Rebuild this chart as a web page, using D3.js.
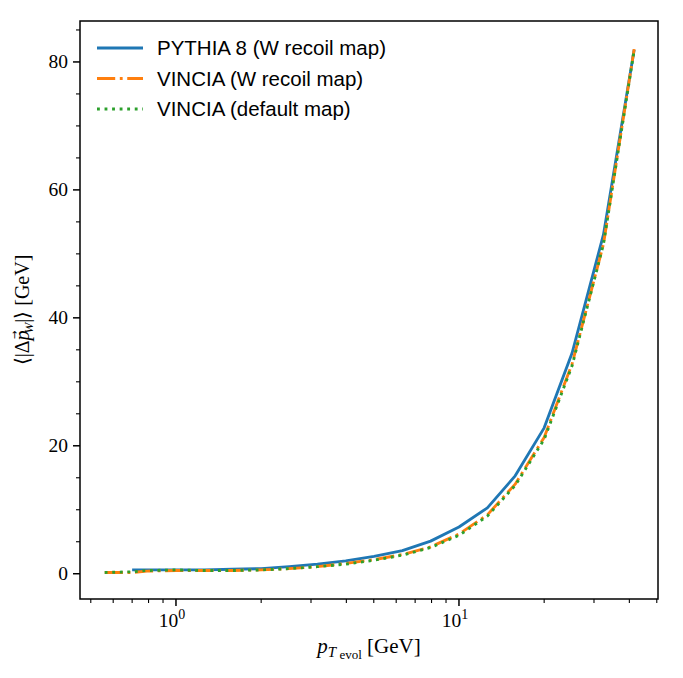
<!DOCTYPE html>
<html>
<head>
<meta charset="utf-8">
<script src="https://cdn.jsdelivr.net/npm/d3@7"></script>
<style>
  html, body { margin: 0; padding: 0; background: #fff; }
  svg { display: block; }
  .tick-lbl { font-family: "Liberation Serif", "Times New Roman", serif; font-size: 19.5px; fill: #000; }
  .leg { font-family: "Liberation Sans", Arial, sans-serif; font-size: 20.5px; fill: #000; }
</style>
</head>
<body>
<svg id="chart" width="683" height="678"></svg>
<script>
// pT_evol bin positions [GeV]
const ptEvol = [0.56, 0.70, 0.79, 1.0, 1.26, 1.58, 2.0, 2.51, 3.16, 3.98, 5.01, 6.31, 7.94, 10.0, 12.6, 15.8, 20.0, 25.1, 32.4, 41.6];
// <|Δp_W|> [GeV]
const pythiaW  = [null, 0.6, 0.6, 0.6, 0.6, 0.7, 0.8, 1.1, 1.5, 2.0, 2.7, 3.6, 5.1, 7.3, 10.3, 15.3, 22.8, 34.5, 53.0, 81.9];
const vinciaW  = [0.2, 0.2, 0.4, 0.5, 0.5, 0.5, 0.6, 0.8, 1.1, 1.6, 2.2, 3.0, 4.2, 6.2, 9.2, 14.0, 21.3, 32.8, 51.5, 82.0];
const vinciaD  = [0.2, 0.3, 0.5, 0.6, 0.5, 0.5, 0.6, 0.8, 1.1, 1.5, 2.1, 2.9, 4.1, 6.0, 9.0, 13.8, 21.0, 32.5, 51.5, 81.8];

const seriesNames = ["PYTHIA 8 (W recoil map)", "VINCIA (W recoil map)", "VINCIA (default map)"];
const seriesColors = ["#1f77b4", "#ff7f0e", "#2ca02c"];
const seriesDash = [null, "18.2,4.6,2.85,4.6", "2.85,4.7"];
const seriesVals = [pythiaW, vinciaW, vinciaD];

const yTicks = [0, 20, 40, 60, 80];

const W = 683, H = 678;
const m = { l: 80, r: 25, t: 21, b: 79 };
const svg = d3.select("#chart");

const x = d3.scaleLog().domain([0.458, 50.5]).range([m.l, W - m.r]);
const y = d3.scaleLinear().domain([-3.95, 86.4]).range([H - m.b, m.t]);

const g = svg.append("g");

// curves
svg.append("defs").append("clipPath").attr("id", "plotclip")
  .append("rect").attr("x", m.l).attr("y", m.t).attr("width", W - m.l - m.r).attr("height", H - m.t - m.b);

const line = d3.line()
  .defined(d => d[1] != null)
  .x(d => x(d[0])).y(d => y(d[1]));

seriesVals.forEach((vals, i) => {
  g.append("path")
    .datum(ptEvol.map((p, j) => [p, vals[j]]))
    .attr("clip-path", "url(#plotclip)")
    .attr("fill", "none")
    .attr("stroke", seriesColors[i])
    .attr("stroke-width", 2.85)
    .attr("stroke-dasharray", seriesDash[i])
    .attr("stroke-linejoin", "round")
    .attr("d", line);
});

// frame
svg.append("rect")
  .attr("x", m.l).attr("y", m.t)
  .attr("width", W - m.l - m.r).attr("height", H - m.t - m.b)
  .attr("fill", "none").attr("stroke", "#000").attr("stroke-width", 1.5);

// x axis ticks
const xMajor = [1, 10];
const xMinor = [];
[0.1, 1, 10].forEach(dec => { for (let k = 2; k <= 9; k++) xMinor.push(dec * k); });
const xMinorIn = xMinor.filter(v => v >= 0.458 && v <= 50.5);
const yb = H - m.b;

svg.append("g").selectAll("line").data(xMinorIn).join("line")
  .attr("x1", d => x(d)).attr("x2", d => x(d))
  .attr("y1", yb).attr("y2", yb + 4)
  .attr("stroke", "#000").attr("stroke-width", 1.1);
svg.append("g").selectAll("line").data(xMajor).join("line")
  .attr("x1", d => x(d)).attr("x2", d => x(d))
  .attr("y1", yb).attr("y2", yb + 7)
  .attr("stroke", "#000").attr("stroke-width", 1.5);

const xl = svg.append("g").selectAll("text").data(xMajor).join("text")
  .attr("class", "tick-lbl")
  .attr("x", d => x(d) - 4).attr("y", yb + 28)
  .attr("text-anchor", "middle");
xl.append("tspan").text("10");
xl.append("tspan").attr("dy", -8).attr("font-size", "14px").text(d => Math.round(Math.log10(d)));

// y axis ticks
const yMinor = d3.range(0, 86, 5).filter(v => !yTicks.includes(v));
svg.append("g").selectAll("line").data(yMinor.filter(v => y(v) > m.t)).join("line")
  .attr("x1", m.l - 4).attr("x2", m.l)
  .attr("y1", d => y(d)).attr("y2", d => y(d))
  .attr("stroke", "#000").attr("stroke-width", 1.1);
svg.append("g").selectAll("line").data(yTicks).join("line")
  .attr("x1", m.l - 7).attr("x2", m.l)
  .attr("y1", d => y(d)).attr("y2", d => y(d))
  .attr("stroke", "#000").attr("stroke-width", 1.5);
svg.append("g").selectAll("text").data(yTicks).join("text")
  .attr("class", "tick-lbl")
  .attr("x", m.l - 12).attr("y", d => y(d) + 6.5)
  .attr("text-anchor", "end")
  .text(d => d);

// x label: p_{T evol} [GeV]
const xt = svg.append("text").attr("class", "tick-lbl")
  .attr("x", (m.l + W - m.r) / 2).attr("y", 653)
  .attr("text-anchor", "middle")
  .style("font-size", "21px");
xt.append("tspan").attr("font-style", "italic").text("p");
xt.append("tspan").attr("font-style", "italic").attr("font-size", "15px").attr("dy", 4).text("T");
xt.append("tspan").attr("font-size", "13px").attr("dy", 2).text(" evol");
xt.append("tspan").attr("dy", -6).text(" [GeV]");

// y label: <|Δp_W|> [GeV], arrow over p set as its own tspan
const cy = (m.t + H - m.b) / 2;
const yt = svg.append("text").attr("class", "tick-lbl")
  .attr("transform", `translate(29,${cy}) rotate(-90)`)
  .attr("text-anchor", "middle")
  .style("font-size", "20px");
yt.append("tspan").text("⟨|Δ");
yt.append("tspan").attr("font-style", "italic").text("p");
yt.append("tspan").attr("font-family", "DejaVu Sans").attr("font-size", "10px")
  .attr("dx", -8.5).attr("dy", -11).text("→");
yt.append("tspan").attr("font-style", "italic").attr("font-size", "13px")
  .attr("dx", -3).attr("dy", 15).text("W");
yt.append("tspan").attr("dy", -4).text("|⟩ [GeV]");

// legend
const leg = svg.append("g");
seriesNames.forEach((name, i) => {
  const ly = 48 + i * 30.5;
  leg.append("line")
    .attr("x1", 97).attr("x2", 143).attr("y1", ly).attr("y2", ly)
    .attr("stroke", seriesColors[i]).attr("stroke-width", 2.85)
    .attr("stroke-dasharray", seriesDash[i]);
  leg.append("text").attr("class", "leg")
    .attr("x", 157).attr("y", ly + 7)
    .text(name);
});
</script>
</body>
</html>
